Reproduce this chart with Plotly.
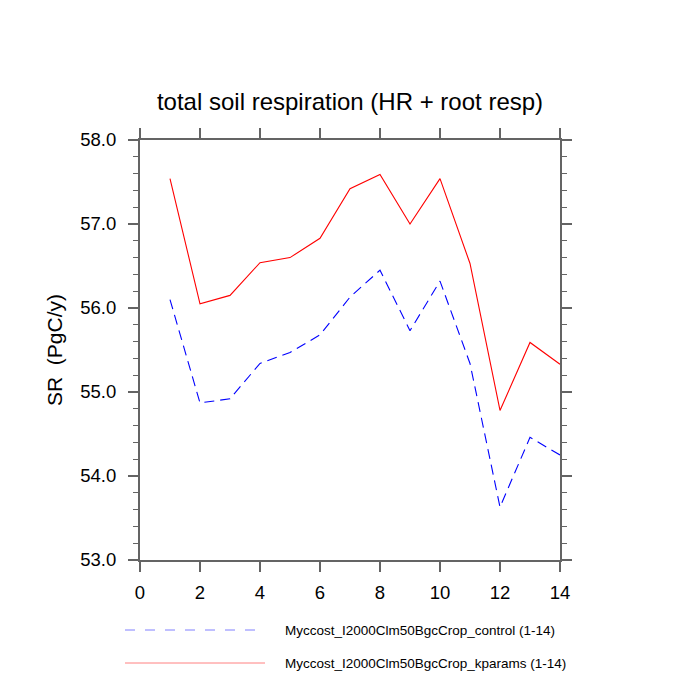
import plotly.graph_objects as go

# years 1-14
years = list(range(1, 15))

# total soil respiration (PgC/y)
sr_control = [56.10, 54.87, 54.92, 55.34, 55.47, 55.68, 56.13, 56.45,
              55.73, 56.32, 55.34, 53.63, 54.46, 54.25]
sr_kparams = [57.54, 56.05, 56.15, 56.54, 56.60, 56.83, 57.42, 57.59,
              57.00, 57.54, 56.53, 54.78, 55.59, 55.33]

series_names = ["Myccost_I2000Clm50BgcCrop_control (1-14)",
                "Myccost_I2000Clm50BgcCrop_kparams (1-14)"]

y_ticks = [53.0, 54.0, 55.0, 56.0, 57.0, 58.0]
x_ticks = [0, 2, 4, 6, 8, 10, 12, 14]

AXIS_GREY = "#646464"
FONT = "Liberation Sans, Arial, sans-serif"
# the page body has an 8px margin, so the figure is laid out 8px up/left
OFF = 8
PLOT_L, PLOT_T, PLOT_W, PLOT_H = 140 - OFF, 140 - OFF, 420, 420

fig = go.Figure()
fig.add_trace(go.Scatter(
    x=years, y=sr_control, mode="lines", name=series_names[0],
    line=dict(color="#0000FF", width=1.1, dash="10px,6px"),
))
fig.add_trace(go.Scatter(
    x=years, y=sr_kparams, mode="lines", name=series_names[1],
    line=dict(color="#FF0000", width=1.1),
))

axis_common = dict(
    showgrid=False, zeroline=False,
    showline=True, linecolor=AXIS_GREY, linewidth=2,
    ticks="outside", ticklen=10, tickwidth=2, tickcolor=AXIS_GREY,
    mirror="ticks",
    tickfont=dict(size=18.5, color="black", family=FONT),
)

fig.update_xaxes(range=[0, 14], tickvals=x_ticks, ticklabelstandoff=5, **axis_common)
fig.update_yaxes(
    range=[53, 58], tickvals=y_ticks, tickformat=".1f", ticklabelstandoff=8,
    minor=dict(dtick=0.2, ticks="outside", ticklen=5, tickwidth=1, tickcolor=AXIS_GREY),
    title=dict(text="SR  (PgC/y)", font=dict(size=21, family=FONT, color="black"), standoff=12),
    **axis_common,
)

# legend drawn by hand below the plot, like the NCL layout
legend_style = [("#8080ff", "10px,10px"), ("#ff8080", "solid")]
for i, (name, (color, dash)) in enumerate(zip(series_names, legend_style)):
    ypix = 630 + 33 * i - OFF
    yp = (PLOT_T + PLOT_H - ypix) / PLOT_H
    fig.add_shape(type="line", xref="paper", yref="paper",
                  x0=(125 - OFF - PLOT_L) / PLOT_W, x1=(265 - OFF - PLOT_L) / PLOT_W,
                  y0=yp, y1=yp, line=dict(color=color, width=1, dash=dash))
    fig.add_annotation(xref="paper", yref="paper", x=(283 - OFF - PLOT_L) / PLOT_W, y=yp,
                       text=name, showarrow=False, xanchor="left", yanchor="middle",
                       font=dict(size=13.5, family=FONT, color="black"))

fig.update_layout(
    width=700, height=700,
    margin=dict(l=PLOT_L, r=700 - PLOT_L - PLOT_W, t=PLOT_T, b=700 - PLOT_T - PLOT_H),
    paper_bgcolor="white", plot_bgcolor="white",
    showlegend=False,
    title=dict(text="total soil respiration (HR + root resp)",
               x=(350 - OFF) / 700, xanchor="center", y=1 - (102 - OFF) / 700, yanchor="middle",
               font=dict(size=24, family=FONT, color="black")),
)

fig.write_html("out.html")
